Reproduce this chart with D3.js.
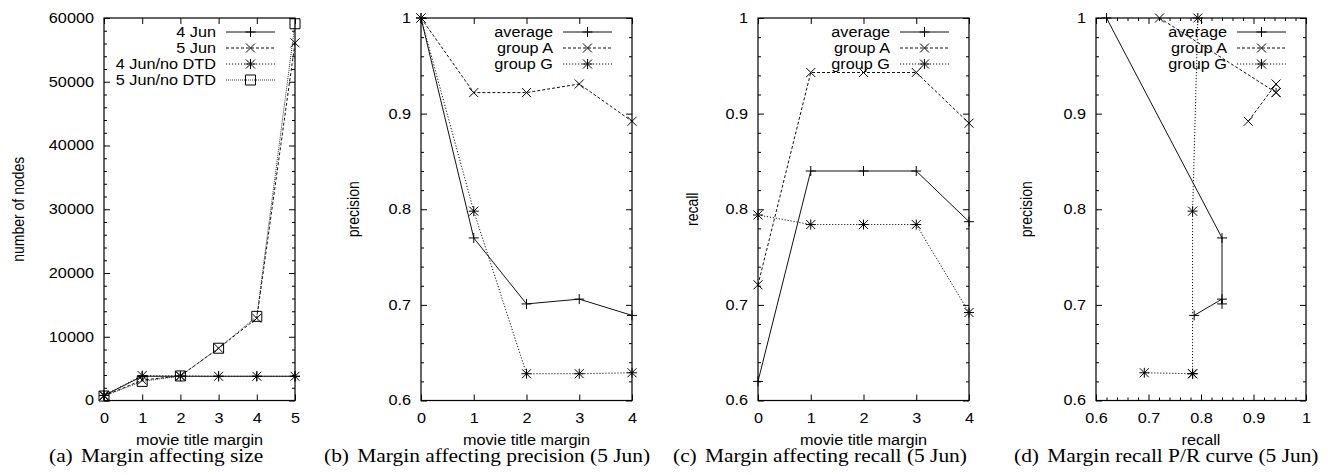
<!DOCTYPE html>
<html>
<head>
<meta charset="utf-8">
<script src="https://cdn.jsdelivr.net/npm/d3@7"></script>
<style>
  html, body { margin: 0; padding: 0; background: #fff; }
  svg { display: block; }
</style>
</head>
<body>
<svg id="chart" width="1328" height="475"></svg>
<script>
// ---------------- DATA ----------------
const margins5 = [0, 1, 2, 3, 4, 5];
const margins4 = [0, 1, 2, 3, 4];

const sizeSeriesNames = ["4 Jun", "5 Jun", "4 Jun/no DTD", "5 Jun/no DTD"];
const size4Jun      = [780, 3800, 3800, 3800, 3800, 3800];
const size5Jun      = [720, 3200, 3850, 8200, 12900, 56100];
const size4JunNoDTD = [800, 3900, 3850, 3800, 3800, 3800];
const size5JunNoDTD = [700, 3000, 3850, 8200, 13200, 59100];

const groupNames = ["average", "group A", "group G"];
const precisionAvg = [1.0, 0.770, 0.701, 0.706, 0.689];
const precisionA   = [1.0, 0.922, 0.922, 0.931, 0.892];
const precisionG   = [1.0, 0.798, 0.628, 0.628, 0.629];
const recallAvg    = [0.620, 0.840, 0.840, 0.840, 0.787];
const recallA      = [0.721, 0.943, 0.943, 0.943, 0.890];
const recallG      = [0.794, 0.784, 0.784, 0.784, 0.692];

const sizeTicks = [0, 10000, 20000, 30000, 40000, 50000, 60000];
const marginTicks5 = [0, 1, 2, 3, 4, 5];
const marginTicks4 = [0, 1, 2, 3, 4];
const prTicks = [0.6, 0.7, 0.8, 0.9, 1];

const captions = [
  ["(a)", "Margin affecting size"],
  ["(b)", "Margin affecting precision (5 Jun)"],
  ["(c)", "Margin affecting recall (5 Jun)"],
  ["(d)", "Margin recall P/R curve (5 Jun)"]
];
const xTitles = ["movie title margin", "movie title margin", "movie title margin", "recall"];
const yTitles = ["number of nodes", "precision", "recall", "precision"];

// ---------------- STYLES ----------------
const SANS = "'Liberation Sans', Arial, Helvetica, sans-serif";
const SERIF = "'Liberation Serif', 'Times New Roman', serif";
const FS = 14, SX = 1.16;       // sans text: size and horizontal stretch
const FSC = 18, SXC = 1.19;     // caption text
const styles = [
  { dash: null, marker: "plus", color: "#111" },
  { dash: "3,2", marker: "cross", color: "#111" },
  { dash: "1.2,1.8", marker: "star", color: "#111" },
  { dash: "1,1", marker: "square", color: "#333" }
];

const svg = d3.select("#chart");
const TOP = 18, BOTTOM = 400.5;

function markerPath(type, s) {
  const d = s * 0.9;
  switch (type) {
    case "plus": return `M${-s},0H${s}M0,${-s}V${s}`;
    case "cross": return `M${-d},${-d}L${d},${d}M${-d},${d}L${d},${-d}`;
    case "star": return `M${-s},0H${s}M0,${-s}V${s}M${-d},${-d}L${d},${d}M${-d},${d}L${d},${-d}`;
    case "square": return `M${-s},${-s}H${s}V${s}H${-s}Z`;
  }
}

function stretch(sel) {
  sel.each(function () {
    const t = d3.select(this);
    const x = +t.attr("x") || 0, y = +t.attr("y") || 0;
    t.attr("x", null).attr("y", null)
      .attr("transform", `translate(${x},${y}) scale(${SX},1)`);
  });
}

function styleAxis(g) {
  g.select(".domain").remove();
  g.selectAll("line").attr("stroke", "#000").attr("stroke-width", 1);
  g.selectAll("text")
    .attr("font-family", SANS).attr("font-size", FS).attr("fill", "#000")
    .call(stretch);
}

function minorValues(domain, step, majors) {
  const out = [];
  const n = Math.round((domain[1] - domain[0]) / step);
  for (let i = 0; i <= n; i++) {
    const v = domain[0] + i * step;
    if (!majors.some(m => Math.abs(m - v) < step * 1e-3)) out.push(v);
  }
  return out;
}

function sansText(g, x, y, str, anchor) {
  return g.append("text")
    .attr("transform", `translate(${x},${y}) scale(${SX},1)`)
    .attr("text-anchor", anchor)
    .attr("font-family", SANS).attr("font-size", FS).attr("fill", "#000")
    .text(str);
}

function panel(cfg) {
  const g = svg.append("g");
  const x = d3.scaleLinear().domain(cfg.xDomain).range([cfg.left, cfg.right]);
  const y = d3.scaleLinear().domain(cfg.yDomain).range([BOTTOM, TOP]);

  // bottom / top axes
  g.append("g").attr("transform", `translate(0,${BOTTOM})`)
    .call(d3.axisBottom(x).tickValues(cfg.xTicks).tickSize(-6).tickPadding(12.6).tickFormat(cfg.xFmt))
    .call(styleAxis);
  g.append("g").attr("transform", `translate(0,${TOP})`)
    .call(d3.axisTop(x).tickValues(cfg.xTicks).tickSize(-6).tickFormat(""))
    .call(styleAxis);
  if (cfg.xMinor) {
    const mv = minorValues(cfg.xDomain, cfg.xMinor, cfg.xTicks);
    g.append("g").attr("transform", `translate(0,${BOTTOM})`)
      .call(d3.axisBottom(x).tickValues(mv).tickSize(-3).tickFormat("")).call(styleAxis);
    g.append("g").attr("transform", `translate(0,${TOP})`)
      .call(d3.axisTop(x).tickValues(mv).tickSize(-3).tickFormat("")).call(styleAxis);
  }
  // left / right axes
  g.append("g").attr("transform", `translate(${cfg.left},0)`)
    .call(d3.axisLeft(y).tickValues(cfg.yTicks).tickSize(-6).tickPadding(10).tickFormat(cfg.yFmt))
    .call(styleAxis);
  g.append("g").attr("transform", `translate(${cfg.right},0)`)
    .call(d3.axisRight(y).tickValues(cfg.yTicks).tickSize(-6).tickFormat(""))
    .call(styleAxis);
  const ymv = minorValues(cfg.yDomain, cfg.yMinor, cfg.yTicks);
  g.append("g").attr("transform", `translate(${cfg.left},0)`)
    .call(d3.axisLeft(y).tickValues(ymv).tickSize(-3).tickFormat("")).call(styleAxis);
  g.append("g").attr("transform", `translate(${cfg.right},0)`)
    .call(d3.axisRight(y).tickValues(ymv).tickSize(-3).tickFormat("")).call(styleAxis);

  // frame
  g.append("rect")
    .attr("x", x.range()[0]).attr("y", TOP)
    .attr("width", x.range()[1] - x.range()[0]).attr("height", BOTTOM - TOP)
    .attr("fill", "none").attr("stroke", "#000").attr("stroke-width", 1.2);

  // legend
  const lg = g.append("g");
  cfg.series.forEach((s, i) => {
    const st = styles[i];
    const cy = 32 + 16 * i;
    sansText(lg, cfg.right - 79, cy + 5, s.name, "end");
    lg.append("line")
      .attr("x1", cfg.right - 69).attr("x2", cfg.right - 20)
      .attr("y1", cy).attr("y2", cy)
      .attr("stroke", st.color).attr("stroke-width", 1)
      .attr("stroke-dasharray", st.dash);
    lg.append("path")
      .attr("transform", `translate(${cfg.right - 44.5},${cy})`)
      .attr("d", markerPath(st.marker, 5))
      .attr("fill", "none").attr("stroke", "#000").attr("stroke-width", 1);
  });

  // series
  const line = d3.line().x(d => x(d[0])).y(d => y(d[1]));
  cfg.series.forEach((s, i) => {
    const st = styles[i];
    const pts = s.xs.map((xv, k) => [xv, s.ys[k]]);
    g.append("path").datum(pts)
      .attr("d", line)
      .attr("fill", "none").attr("stroke", st.color).attr("stroke-width", 1)
      .attr("stroke-dasharray", st.dash);
    g.selectAll(null).data(pts).enter().append("path")
      .attr("transform", d => `translate(${x(d[0])},${y(d[1])})`)
      .attr("d", markerPath(st.marker, 5))
      .attr("fill", "none").attr("stroke", "#000").attr("stroke-width", 1);
  });

  // axis titles
  sansText(g, (cfg.left + cfg.right) / 2, 445, cfg.xTitle, "middle");
  g.append("text")
    .attr("transform", `translate(${cfg.yTitleX},${(TOP + BOTTOM) / 2}) rotate(-90) scale(1,${SX})`)
    .attr("text-anchor", "middle")
    .attr("font-family", SANS).attr("font-size", FS).attr("fill", "#000")
    .text(cfg.yTitle);

  // caption
  const cap = g.append("text")
    .attr("transform", `translate(${cfg.capX},462) scale(${SXC},1)`)
    .attr("font-family", SERIF).attr("font-size", FSC).attr("fill", "#000");
  cap.append("tspan").text(cfg.caption[0]);
  cap.append("tspan").attr("dx", 7).text(cfg.caption[1]);
}

const fmtPR = d3.format("~g");
const fmtInt = d3.format("d");

panel({
  left: 104, right: 295,
  xDomain: [0, 5], yDomain: [0, 60000],
  xTicks: marginTicks5, yTicks: sizeTicks, yMinor: 2000,
  xFmt: fmtInt, yFmt: fmtInt,
  series: [
    { name: sizeSeriesNames[0], xs: margins5, ys: size4Jun },
    { name: sizeSeriesNames[1], xs: margins5, ys: size5Jun },
    { name: sizeSeriesNames[2], xs: margins5, ys: size4JunNoDTD },
    { name: sizeSeriesNames[3], xs: margins5, ys: size5JunNoDTD }
  ],
  xTitle: xTitles[0], yTitle: yTitles[0], yTitleX: 24,
  caption: captions[0], capX: 49
});

panel({
  left: 421, right: 632,
  xDomain: [0, 4], yDomain: [0.6, 1],
  xTicks: marginTicks4, yTicks: prTicks, yMinor: 0.02,
  xFmt: fmtInt, yFmt: fmtPR,
  series: [
    { name: groupNames[0], xs: margins4, ys: precisionAvg },
    { name: groupNames[1], xs: margins4, ys: precisionA },
    { name: groupNames[2], xs: margins4, ys: precisionG }
  ],
  xTitle: xTitles[1], yTitle: yTitles[1], yTitleX: 358.5,
  caption: captions[1], capX: 324
});

panel({
  left: 758, right: 969,
  xDomain: [0, 4], yDomain: [0.6, 1],
  xTicks: marginTicks4, yTicks: prTicks, yMinor: 0.02,
  xFmt: fmtInt, yFmt: fmtPR,
  series: [
    { name: groupNames[0], xs: margins4, ys: recallAvg },
    { name: groupNames[1], xs: margins4, ys: recallA },
    { name: groupNames[2], xs: margins4, ys: recallG }
  ],
  xTitle: xTitles[2], yTitle: yTitles[2], yTitleX: 698,
  caption: captions[2], capX: 673
});

panel({
  left: 1096, right: 1306,
  xDomain: [0.6, 1], yDomain: [0.6, 1],
  xTicks: prTicks, yTicks: prTicks, xMinor: 0.02, yMinor: 0.02,
  xFmt: fmtPR, yFmt: fmtPR,
  series: [
    { name: groupNames[0], xs: recallAvg, ys: precisionAvg },
    { name: groupNames[1], xs: recallA, ys: precisionA },
    { name: groupNames[2], xs: recallG, ys: precisionG }
  ],
  xTitle: xTitles[3], yTitle: yTitles[3], yTitleX: 1031.5,
  caption: captions[3], capX: 1014
});
</script>
</body>
</html>
